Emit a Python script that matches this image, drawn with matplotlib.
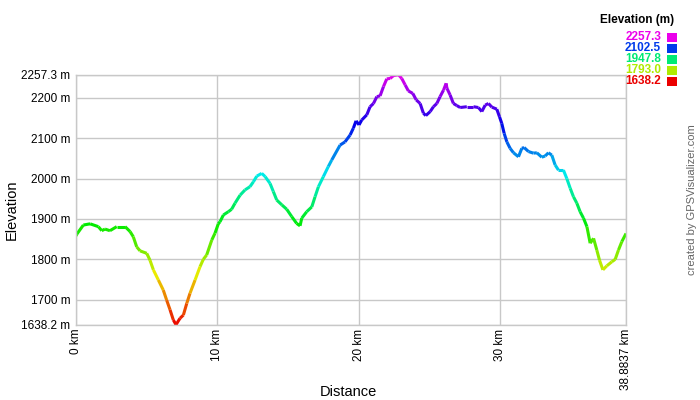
import numpy as np
import matplotlib
matplotlib.use("Agg")
import matplotlib.pyplot as plt
from matplotlib.collections import LineCollection
from matplotlib.colors import hsv_to_rgb

plt.rcParams['font.family'] = ['Liberation Sans', 'DejaVu Sans']

# Elevation profile (distance in km, elevation in m)
distance_km = [
    0.0, 0.05, 0.52, 1.0, 1.58, 1.82, 2.05, 2.4, 2.88, 3.47, 3.82, 4.05, 4.29,
    4.53, 5.0, 5.23, 5.47, 5.82, 6.17, 6.41, 6.65, 6.88, 7.07, 7.35, 7.59,
    7.83, 8.06, 8.42, 8.77, 9.0, 9.24, 9.6, 9.83, 10.06, 10.18, 10.42, 10.77,
    11.0, 11.24, 11.6, 11.95, 12.3, 12.54, 12.78, 13.13, 13.37, 13.72, 13.95,
    14.19, 14.55, 14.9, 15.25, 15.6, 15.84, 15.96, 16.31, 16.67, 16.9, 17.14,
    17.49, 17.84, 18.08, 18.67, 19.02, 19.38, 19.61, 19.8, 20.01, 20.2, 20.56,
    20.79, 21.03, 21.27, 21.5, 21.74, 21.97, 22.21, 22.44, 22.8, 23.03, 23.27,
    23.5, 23.81, 24.05, 24.33, 24.56, 24.73, 25.04, 25.27, 25.51, 25.74,
    25.98, 26.17, 26.22, 26.45, 26.68, 26.92, 27.16, 27.63, 28.1, 28.45,
    28.69, 28.93, 29.16, 29.4, 29.75, 29.94, 30.1, 30.27, 30.46, 30.69, 30.93,
    31.28, 31.52, 31.68, 31.99, 32.34, 32.58, 32.93, 33.17, 33.4, 33.64,
    33.87, 34.11, 34.46, 34.7, 34.94, 35.17, 35.41, 35.64, 35.88, 36.12,
    36.35, 36.59, 36.82, 37.01, 37.25, 37.53, 37.88, 38.12, 38.35, 38.59,
    38.8837,
]
elevation_m = [
    1858, 1862, 1885, 1888, 1881, 1871, 1875, 1871, 1881, 1881, 1869, 1856,
    1831, 1821, 1815, 1798, 1774, 1749, 1724, 1699, 1675, 1650, 1638.2, 1654,
    1662, 1691, 1716, 1749, 1782, 1800, 1811, 1848, 1865, 1888, 1893, 1910,
    1918, 1924, 1939, 1959, 1972, 1980, 1992, 2006, 2013, 2005, 1988, 1968,
    1947, 1935, 1924, 1906, 1889, 1883, 1902, 1918, 1930, 1955, 1980, 2005,
    2030, 2046, 2083, 2091, 2108, 2125, 2143, 2133, 2145, 2158, 2178, 2186,
    2203, 2205, 2228, 2247, 2248, 2255, 2257.3, 2248, 2232, 2217, 2211, 2195,
    2186, 2162, 2156, 2166, 2178, 2186, 2203, 2219, 2236, 2224, 2207, 2186,
    2181, 2176, 2178, 2178, 2176, 2166, 2182, 2186, 2177, 2172, 2153, 2137,
    2112, 2091, 2075, 2064, 2054, 2075, 2077, 2067, 2063, 2064, 2053, 2056,
    2064, 2058, 2034, 2021, 2021, 2000, 1976, 1955, 1939, 1918, 1902, 1881,
    1840, 1852, 1823, 1798, 1774, 1784, 1794, 1800, 1823, 1844, 1864,
]

elev_min = 1638.2
elev_max = 2257.3
total_km = 38.8837
y_ticks = [1638.2, 1700, 1800, 1900, 2000, 2100, 2200, 2257.3]
y_tick_labels = ["1638.2 m", "1700 m", "1800 m", "1900 m", "2000 m",
                 "2100 m", "2200 m", "2257.3 m"]
x_ticks = [0, 10, 20, 30, 38.8837]
x_tick_labels = ["0 km", "10 km", "20 km", "30 km", "38.8837 km"]
legend_values = [2257.3, 2102.5, 1947.8, 1793.0, 1638.2]


def elev_color(e):
    # red at the minimum, running through the hues to magenta at the maximum
    f = (e - elev_min) / (elev_max - elev_min)
    f = min(max(f, 0.0), 1.0)
    return hsv_to_rgb((f * 300.0 / 360.0, 1.0, 0.92))


fig = plt.figure(figsize=(7, 4), dpi=100)
ax = fig.add_axes([76 / 700, 1 - 324.7 / 400, 550 / 700, 250 / 400])

x = np.array(distance_km)
y = np.array(elevation_m)
pts = np.column_stack([x, y]).reshape(-1, 1, 2)
segs = np.concatenate([pts[:-1], pts[1:]], axis=1)
cols = [elev_color((a + b) / 2) for a, b in zip(y[:-1], y[1:])]
lc = LineCollection(segs, colors=cols, linewidths=2.2, capstyle='butt',
                    joinstyle='round')
ax.add_collection(lc)

ax.set_xlim(0, total_km)
ax.set_ylim(elev_min, elev_max)
ax.set_yticks(y_ticks)
ax.set_yticklabels(y_tick_labels)
ax.set_xticks(x_ticks)
ax.set_xticklabels(x_tick_labels, rotation=90, va='top', ha='center')
ax.tick_params(axis='both', length=0, labelsize=8.5, colors='black')
ax.tick_params(axis='y', pad=4)
ax.tick_params(axis='x', pad=3)
ax.grid(True, color='#c8c8c8', linewidth=1)
ax.set_axisbelow(True)
for spine in ax.spines.values():
    spine.set_color('#c8c8c8')
    spine.set_linewidth(1)

fig.text(348 / 700, 1 - 392 / 400, "Distance", ha='center', va='center',
         fontsize=10.5)
fig.text(12 / 700, 1 - 210 / 400, "Elevation", ha='center', va='center',
         rotation=90, fontsize=10.5)
fig.text(692 / 700, 1 - 200 / 400, "created by GPSVisualizer.com",
         ha='center', va='center', rotation=90, fontsize=8, color='#666666')

# legend box at the top right
fig.text(674 / 700, 1 - 20 / 400, "Elevation (m)", ha='right', va='center',
         fontsize=8.5, fontweight='bold')
for i, v in enumerate(legend_values):
    yy = 1 - (37 + i * 11) / 400
    c = elev_color(v)
    fig.text(661 / 700, yy, f"{v:.1f}", ha='right', va='center',
             fontsize=8.5, fontweight='bold', color=c)
    fig.patches.append(plt.Rectangle((667 / 700, yy - 4.5 / 400), 10 / 700,
                                     9 / 400, transform=fig.transFigure,
                                     facecolor=c, edgecolor='none'))

fig.savefig("out.png", dpi=100)
